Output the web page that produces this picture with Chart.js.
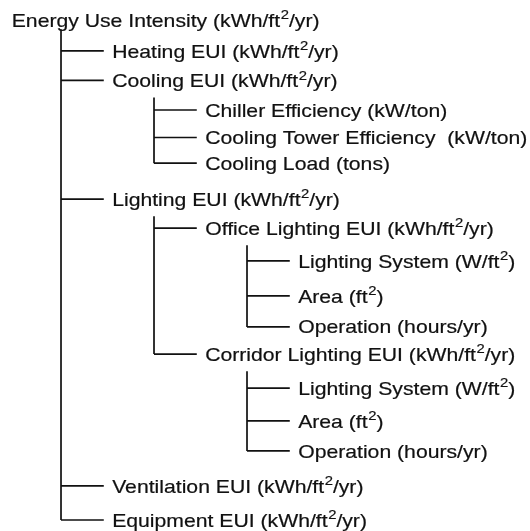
<!DOCTYPE html>
<html>
<head>
<meta charset="utf-8">
<script src="https://cdn.jsdelivr.net/npm/chart.js@4.4.1/dist/chart.umd.min.js"></script>
<style>
  html, body { margin: 0; padding: 0; background: #fff; }
  #wrap { width: 530px; height: 531px; }
</style>
</head>
<body>
<div id="wrap"><canvas id="tree" width="530" height="531"></canvas></div>
<script>
// tree nodes, top to bottom
const nodeLabels = [
  'Energy Use Intensity (kWh/ft²/yr)',
  'Heating EUI (kWh/ft²/yr)',
  'Cooling EUI (kWh/ft²/yr)',
  'Chiller Efficiency (kW/ton)',
  'Cooling Tower Efficiency  (kW/ton)',
  'Cooling Load (tons)',
  'Lighting EUI (kWh/ft²/yr)',
  'Office Lighting EUI (kWh/ft²/yr)',
  'Lighting System (W/ft²)',
  'Area (ft²)',
  'Operation (hours/yr)',
  'Corridor Lighting EUI (kWh/ft²/yr)',
  'Lighting System (W/ft²)',
  'Area (ft²)',
  'Operation (hours/yr)',
  'Ventilation EUI (kWh/ft²/yr)',
  'Equipment EUI (kWh/ft²/yr)'
];
const nodeDepth  = [0, 1, 1, 2, 2, 2, 1, 2, 3, 3, 3, 2, 3, 3, 3, 1, 1];
const nodeParent = [-1, 0, 0, 2, 2, 2, 0, 6, 7, 7, 7, 6, 11, 11, 11, 0, 0];
// row position of each node (in row units)
const nodeRow = [0, 0.99, 1.93, 2.88, 3.76, 4.58, 5.73, 6.66, 7.71, 8.83, 9.82,
                 10.69, 11.78, 12.83, 13.79, 14.91, 16.0];

const ELBOW = 0.46;      // length of the horizontal connector
const TEXT_GAP = 0.55;   // where the label starts, from the trunk
const ROOT_TEXT_X = -0.53;
const HSCALE = 1.145;    // scanned lettering is wide
const FONT_PX = 18.5;
const FAMILY = '"Liberation Sans", Arial, Helvetica, sans-serif';

// one line dataset per connector
const datasets = [];
const lineStyle = { showLine: true, borderColor: '#111', borderWidth: 1.7,
                    pointRadius: 0, fill: false, tension: 0 };

nodeLabels.forEach((lbl, i) => {
  const p = nodeParent[i];
  if (p < 0) return;
  const trunk = nodeDepth[i] - 1;
  datasets.push(Object.assign({
    data: [{ x: trunk, y: nodeRow[i] }, { x: trunk + ELBOW, y: nodeRow[i] }]
  }, lineStyle));
});

// vertical trunks from each parent down to its last child
nodeLabels.forEach((lbl, i) => {
  const kids = nodeParent.map((p, j) => p === i ? j : -1).filter(j => j >= 0);
  if (!kids.length) return;
  const last = Math.max(...kids.map(k => nodeRow[k]));
  const start = nodeRow[i] + (nodeDepth[i] === 0 ? 0.3 : 0.55);
  datasets.push(Object.assign({
    data: [{ x: nodeDepth[i], y: start }, { x: nodeDepth[i], y: last }]
  }, lineStyle));
});

const labelPlugin = {
  id: 'nodeLabels',
  afterDatasetsDraw(chart) {
    const ctx = chart.ctx;
    const xs = chart.scales.x, ys = chart.scales.y;
    ctx.save();
    ctx.fillStyle = '#111';
    ctx.strokeStyle = '#111';
    ctx.lineWidth = 0.2;
    ctx.textBaseline = 'alphabetic';
    nodeLabels.forEach((lbl, i) => {
      const xv = nodeDepth[i] === 0 ? ROOT_TEXT_X : nodeDepth[i] - 1 + TEXT_GAP;
      const px = xs.getPixelForValue(xv);
      const py = ys.getPixelForValue(nodeRow[i]) + 6.6;
      ctx.save();
      ctx.translate(px, py);
      ctx.scale(HSCALE, 1);
      let cx = 0;
      const parts = lbl.split('²');
      parts.forEach((part, k) => {
        ctx.font = FONT_PX + 'px ' + FAMILY;
        ctx.fillText(part, cx, 0);
        ctx.strokeText(part, cx, 0);
        cx += ctx.measureText(part).width;
        if (k < parts.length - 1) {
          ctx.font = (FONT_PX * 0.7) + 'px ' + FAMILY;
          ctx.fillText('2', cx + 0.5, -FONT_PX * 0.4);
          ctx.strokeText('2', cx + 0.5, -FONT_PX * 0.4);
          cx += ctx.measureText('2').width + 0.5;
        }
      });
      ctx.restore();
    });
    ctx.restore();
  }
};

new Chart(document.getElementById('tree'), {
  type: 'scatter',
  data: { datasets: datasets },
  options: {
    responsive: false,
    animation: false,
    layout: { padding: 0 },
    scales: {
      x: { type: 'linear', display: false, min: -0.656, max: 5.043 },
      y: { type: 'linear', display: false, min: -0.64, max: 16.352, reverse: true }
    },
    plugins: {
      legend: { display: false },
      tooltip: { enabled: false }
    }
  },
  plugins: [labelPlugin]
});
</script>
</body>
</html>
